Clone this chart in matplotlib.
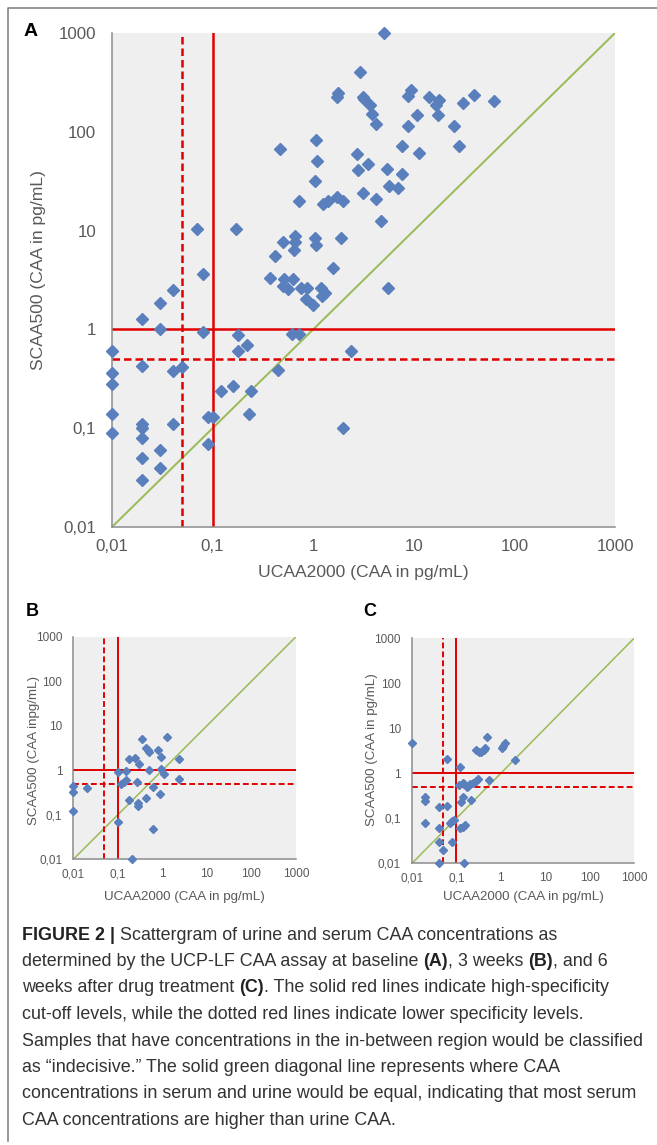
import matplotlib
matplotlib.use("Agg")
import matplotlib.pyplot as plt
from matplotlib.lines import Line2D

W, H = 657, 1145

# --- data (UCAA2000 urine, SCAA500 serum), pg/mL ---
a_x = [5, 2.9, 1.75, 1.72, 3.1, 3.2, 3.7, 3.8, 4.2, 9.3, 8.7, 14, 18, 16.6, 31, 40, 62,
       10.8, 17.6, 8.8, 25, 28, 7.6, 11.2, 2.75, 3.5, 2.8, 5.4, 7.6, 5.7, 6.9, 3.1, 4.2,
       1.96, 4.7, 1.9, 1.06, 0.47, 1.09, 1.05, 0.73, 1.26, 1.41, 1.73, 0.07, 0.17, 0.66,
       0.66, 0.5, 1.05, 1.07, 0.65, 0.42, 1.57, 0.081, 0.37, 0.51, 0.63, 0.04, 0.5, 0.56,
       0.76, 0.87, 1.19, 1.3, 1.23, 0.85, 1.0, 5.5, 0.03, 0.02, 0.03, 0.08, 0.18, 0.62,
       0.72, 0.22, 0.01, 0.18, 2.4, 0.02, 0.05, 0.04, 0.45, 0.01, 0.01, 0.16, 0.12, 0.24,
       0.01, 0.23, 0.02, 0.02, 0.04, 0.09, 0.1, 2.0, 0.01, 0.02, 0.09, 0.03, 0.02, 0.03, 0.02]
a_y = [1000, 400, 245, 225, 225, 213, 185, 152, 120, 262, 230, 223, 208, 185, 197, 238, 203,
       148, 149, 114, 115, 72, 71, 61, 60, 47, 41, 42, 37, 28, 27, 24, 21,
       20, 12.6, 8.5, 82, 67, 51, 32, 20, 18.7, 20, 22, 10.3, 10.4, 8.8,
       7.6, 7.6, 8.5, 7.1, 6.3, 5.5, 4.2, 3.6, 3.3, 3.2, 3.2, 2.5, 2.75, 2.55,
       2.65, 2.65, 2.65, 2.35, 2.2, 2.05, 1.75, 2.65, 1.83, 1.27, 1.0, 0.95, 0.88, 0.9,
       0.9, 0.69, 0.61, 0.6, 0.6, 0.43, 0.42, 0.38, 0.39, 0.36, 0.28, 0.27, 0.24, 0.24,
       0.14, 0.14, 0.11, 0.1, 0.11, 0.13, 0.13, 0.1, 0.09, 0.08, 0.07, 0.06, 0.05, 0.04, 0.03]

b_x = [0.01, 0.01, 0.01, 0.02, 0.1, 0.1, 0.15, 0.116, 0.137, 0.152, 0.18, 0.18, 0.21, 0.24,
       0.3, 0.27, 0.29, 0.29, 0.34, 0.42, 0.47, 0.5, 0.5, 0.44, 0.62, 0.63, 0.81, 0.91,
       0.87, 0.95, 1.1, 1.25, 2.36, 2.4]
b_y = [0.44, 0.32, 0.12, 0.39, 0.9, 0.068, 0.95, 0.48, 0.55, 0.6, 1.8, 0.21, 0.01, 1.9,
       1.4, 0.55, 0.18, 0.16, 5.1, 3.2, 2.85, 2.6, 1.0, 0.24, 0.41, 0.049, 2.85, 2.0,
       0.3, 1.09, 0.82, 5.7, 1.8, 0.64]

c_x = [0.01, 0.02, 0.02, 0.02, 0.04, 0.06, 0.06, 0.04, 0.04, 0.04, 0.05, 0.07, 0.078, 0.08,
       0.09, 0.12, 0.116, 0.138, 0.148, 0.17, 0.186, 0.2, 0.138, 0.13, 0.12, 0.138, 0.153,
       0.15, 0.21, 0.24, 0.27, 0.31, 0.27, 0.32, 0.35, 0.41, 0.45, 0.5, 0.55, 1.05, 1.12,
       1.22, 2.1]
c_y = [4.6, 0.3, 0.24, 0.08, 0.175, 2.1, 0.19, 0.06, 0.03, 0.01, 0.02, 0.08, 0.087, 0.03,
       0.092, 1.4, 0.56, 0.62, 0.58, 0.49, 0.52, 0.58, 0.3, 0.23, 0.06, 0.065, 0.07,
       0.01, 0.26, 0.62, 0.69, 0.75, 3.3, 3.0, 2.9, 3.3, 3.6, 6.3, 0.71, 3.7, 4.05,
       4.6, 1.95]

ticks = [0.01, 0.1, 1, 10, 100, 1000]
tick_labels = ["0,01", "0,1", "1", "10", "100", "1000"]
high_cut = 1.0      # serum high-specificity cut-off
low_cut = 0.5       # serum lower specificity
u_high_cut = 0.1    # urine high-specificity cut-off
u_low_cut = 0.05    # urine lower specificity

BLUE = "#5a7fbd"
RED = "#e00000"
GREEN = "#9bbb59"
GREY = "#595959"

plt.rcParams["font.family"] = ["Liberation Sans", "DejaVu Sans"]

fig = plt.figure(figsize=(W / 100, H / 100), dpi=100)


def rect(x0, y0, x1, y1):
    return [x0 / W, 1 - y1 / H, (x1 - x0) / W, (y1 - y0) / H]


def panel(box, xs, ys, fs, ms, lw, pads):
    ax = fig.add_axes(rect(*box))
    ax.set_facecolor("#efefef")
    ax.set_xscale("log")
    ax.set_yscale("log")
    ax.set_xlim(0.01, 1000)
    ax.set_ylim(0.01, 1000)
    ax.set_xticks(ticks)
    ax.set_xticklabels(tick_labels)
    ax.set_yticks(ticks)
    ax.set_yticklabels(tick_labels)
    ax.minorticks_off()
    ax.tick_params(length=0, labelsize=fs, colors=GREY)
    ax.tick_params(axis="y", pad=pads[0])
    ax.tick_params(axis="x", pad=pads[1])
    for s in ["top", "right"]:
        ax.spines[s].set_visible(False)
    for s in ["left", "bottom"]:
        ax.spines[s].set_color("#8c8c8c")
        ax.spines[s].set_linewidth(1.1)

    ax.plot([0.01, 1000], [0.01, 1000], color=GREEN, lw=lw * 0.8, zorder=2)
    ax.axhline(high_cut, color=RED, lw=lw, zorder=2)
    ax.axvline(u_high_cut, color=RED, lw=lw, zorder=2)
    ax.axhline(low_cut, color=RED, lw=lw, ls=(0, (3, 1.6)), zorder=2)
    ax.axvline(u_low_cut, color=RED, lw=lw, ls=(0, (3, 1.6)), zorder=2)
    ax.plot(xs, ys, ls="none", marker="D", ms=ms, color=BLUE, mec=BLUE,
            clip_on=False, zorder=3)
    return ax


def ftext(x, y, s, **kw):
    return fig.text(x / W, 1 - y / H, s, **kw)


# panel A
panel((112, 33, 615, 527), a_x, a_y, 12.2, 5.8, 1.8, (11.5, 8.5))
ftext(31, 32, "A", fontsize=14, fontweight="bold", ha="center", va="center", color="black")
ftext(39, 270, "SCAA500 (CAA in pg/mL)", fontsize=12.6, rotation=90, ha="center", va="center", color=GREY)
ftext(363, 573, "UCAA2000 (CAA in pg/mL)", fontsize=12.6, ha="center", va="center", color=GREY)

# panel B
panel((73.3, 636.7, 296, 859.3), b_x, b_y, 8.5, 4.2, 1.4, (8, 6.5))
ftext(32, 612, "B", fontsize=13, fontweight="bold", ha="center", va="center", color="black")
ftext(34, 750, "SCAA500 (CAA inpg/mL)", fontsize=9.6, rotation=90, ha="center", va="center", color=GREY)
ftext(184, 897, "UCAA2000 (CAA in pg/mL)", fontsize=9.6, ha="center", va="center", color=GREY)

# panel C
panel((412, 638.3, 634, 863.3), c_x, c_y, 8.5, 4.2, 1.4, (8, 6.5))
ftext(370, 612, "C", fontsize=13, fontweight="bold", ha="center", va="center", color="black")
ftext(371.7, 750, "SCAA500 (CAA in pg/mL)", fontsize=9.6, rotation=90, ha="center", va="center", color=GREY)
ftext(523, 897, "UCAA2000 (CAA in pg/mL)", fontsize=9.6, ha="center", va="center", color=GREY)

# page frame (left and top border)
fig.add_artist(Line2D([8 / W, 8 / W, 1], [1 - 1141 / H, 1 - 8 / H, 1 - 8 / H],
                      transform=fig.transFigure, color="#7a7a7a", lw=1.1))

# caption with bold pieces
caption = [
    [("FIGURE 2 |", True), (" Scattergram of urine and serum CAA concentrations as", False)],
    [("determined by the UCP-LF CAA assay at baseline ", False), ("(A)", True),
     (", 3 weeks ", False), ("(B)", True), (", and 6", False)],
    [("weeks after drug treatment ", False), ("(C)", True),
     (". The solid red lines indicate high-specificity", False)],
    [("cut-off levels, while the dotted red lines indicate lower specificity levels.", False)],
    [("Samples that have concentrations in the in-between region would be classified", False)],
    [("as \u201cindecisive.\u201d The solid green diagonal line represents where CAA", False)],
    [("concentrations in serum and urine would be equal, indicating that most serum", False)],
    [("CAA concentrations are higher than urine CAA.", False)],
]
cap_fs = 12.9
renderer = fig.canvas.get_renderer()


def seg_width(s, bold):
    w = "bold" if bold else "normal"
    t1 = fig.text(0, 0, "I" + s + "I", fontsize=cap_fs, fontweight=w)
    t2 = fig.text(0, 0, "II", fontsize=cap_fs, fontweight=w)
    d = t1.get_window_extent(renderer).width - t2.get_window_extent(renderer).width
    t1.remove()
    t2.remove()
    return d


for i, line in enumerate(caption):
    y = 935 + i * 26.5
    x = 22
    for s, bold in line:
        ftext(x, y, s, fontsize=cap_fs, fontweight="bold" if bold else "normal",
              ha="left", va="center", color="#222222" if bold else "#333333")
        x += seg_width(s, bold)

fig.savefig("out.png", dpi=100)
